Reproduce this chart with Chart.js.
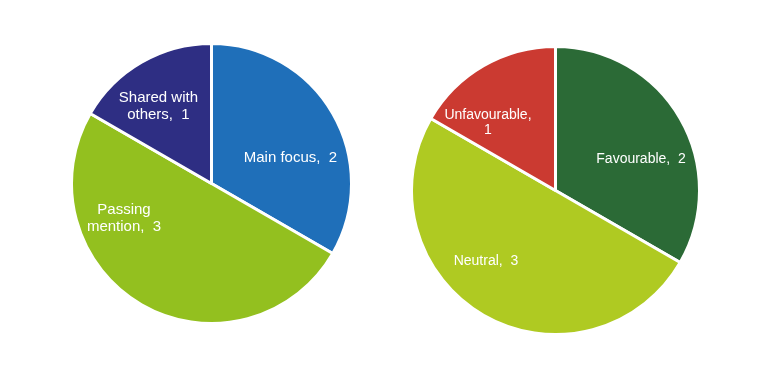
<!DOCTYPE html>
<html>
<head>
<meta charset="utf-8">
<script src="https://cdn.jsdelivr.net/npm/chart.js@4.4.0/dist/chart.umd.min.js"></script>
<style>
  body { margin: 0; background: #fff; width: 768px; height: 366px; position: relative; overflow: hidden; }
  .box { position: absolute; }
</style>
</head>
<body>
<div class="box" style="left:70px;top:42px;width:283px;height:283px;"><canvas id="focus_chart"></canvas></div>
<div class="box" style="left:410px;top:45px;width:291px;height:291px;"><canvas id="tone_chart"></canvas></div>
<script>
var focusLabels = ["Main focus", "Passing mention", "Shared with others"];
var focusValues = [2, 3, 1];
var focusColors = ["#1f6fb9", "#93c01f", "#2e2e83"];

var toneLabels = ["Favourable", "Neutral", "Unfavourable"];
var toneValues = [2, 3, 1];
var toneColors = ["#2b6a36", "#afca22", "#cb3a31"];

// draws "label,  value" inside each slice, wrapped at a max width
var sliceLabels = {
    id: 'sliceLabels',
    afterDatasetsDraw: function (chart, args, opts) {
        var ctx = chart.ctx;
        var meta = chart.getDatasetMeta(0);
        var data = chart.data.datasets[0].data;
        ctx.save();
        ctx.font = opts.fontSize + 'px "Liberation Sans", Arial, sans-serif';
        ctx.fillStyle = '#ffffff';
        ctx.textAlign = 'center';
        ctx.textBaseline = 'middle';
        meta.data.forEach(function (arc, i) {
            var words = chart.data.labels[i].split(' ');
            words[words.length - 1] += ',';
            words.push(' ' + data[i]);
            var lines = [];
            var cur = words[0];
            for (var w = 1; w < words.length; w++) {
                var test = cur + ' ' + words[w];
                if (ctx.measureText(test).width > opts.maxWidth[i]) {
                    lines.push(cur);
                    cur = words[w].trim();
                } else {
                    cur = test;
                }
            }
            lines.push(cur);
            var r = arc.outerRadius;
            var cx = arc.x + opts.offsets[i][0] * r;
            var cy = arc.y + opts.offsets[i][1] * r;
            var lh = opts.lineHeight;
            var y0 = cy - (lines.length - 1) * lh / 2;
            lines.forEach(function (t, k) {
                ctx.fillText(t, cx, y0 + k * lh);
            });
        });
        ctx.restore();
    }
};

function makePie(id, labels, values, colors, offsets, maxWidth, fontSize, lineHeight) {
    var ctx = document.getElementById(id).getContext("2d");
    return new Chart(ctx, {
        type: 'pie',
        data: {
            labels: labels,
            datasets: [{
                data: values,
                backgroundColor: colors,
                borderColor: '#ffffff',
                borderWidth: 3
            }]
        },
        options: {
            responsive: true,
            maintainAspectRatio: false,
            animation: false,
            layout: { padding: 0 },
            plugins: {
                legend: { display: false },
                tooltip: { enabled: false },
                sliceLabels: { offsets: offsets, maxWidth: maxWidth, fontSize: fontSize, lineHeight: lineHeight }
            }
        },
        plugins: [sliceLabels]
    });
}

makePie("focus_chart", focusLabels, focusValues, focusColors,
    [[0.564, -0.182], [-0.625, 0.246], [-0.379, -0.554]], [130, 95, 95], 15, 17);

makePie("tone_chart", toneLabels, toneValues, toneColors,
    [[0.594, -0.215], [-0.483, 0.493], [-0.469, -0.469]], [130, 130, 95], 14, 15);
</script>
</body>
</html>
